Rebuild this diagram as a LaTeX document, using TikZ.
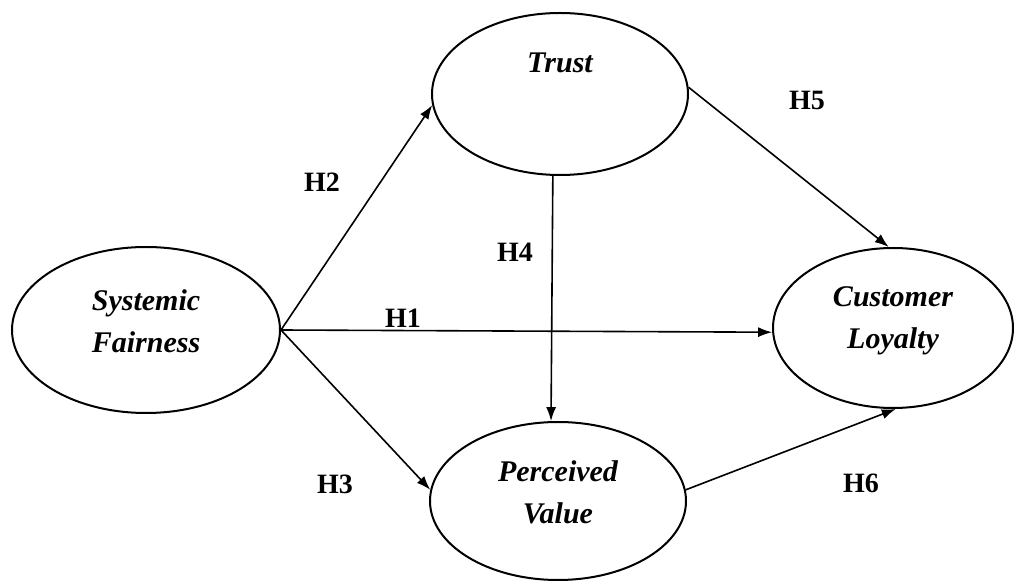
\documentclass[tikz,border=0pt]{standalone}
\usepackage{fontspec}
\setmainfont{Liberation Serif}
\usetikzlibrary{arrows.meta,shapes.geometric}

\begin{document}
\begin{tikzpicture}[x=0.5pt,y=-0.5pt,>={Latex[length=7pt,width=5pt]},
  construct/.style={ellipse,draw,line width=1pt,inner sep=0pt},
  ctext/.style={font=\fontsize{15}{21}\selectfont\bfseries\itshape,align=center},
  hyp/.style={font=\fontsize{14}{16}\selectfont\bfseries},
  effect/.style={->,line width=0.8pt}]
\useasboundingbox (0,0) rectangle (1018,582);
% constructs
\node[construct,minimum width=134pt,minimum height=83pt] (sf) at (146,330) {};
\node[construct,minimum width=128pt,minimum height=81pt] (trust) at (560,94) {};
\node[construct,minimum width=128pt,minimum height=79pt] (pv) at (558,501) {};
\node[construct,minimum width=120pt,minimum height=80pt] (cl) at (893,328) {};
\node[ctext] (sftxt) at ([yshift=4.5pt]sf.center) {Systemic\\Fairness};
\node[ctext] (trusttxt) at ([yshift=15.5pt]trust.center) {Trust};
\node[ctext] (pvtxt) at ([yshift=4.5pt]pv.center) {Perceived\\Value};
\node[ctext] (cltxt) at ([yshift=3.5pt]cl.center) {Customer\\Loyalty};
% hypotheses
\draw[effect] (sf.east) -- (cl.182);
\draw[effect] (sf.east) -- (trust.185);
\draw[effect] (sf.east) -- (pv.175);
\draw[effect] (trust.265) -- (pv.95);
\draw[effect] (trust.3) -- (cl.93);
\draw[effect] (pv.5) -- (cl.272);
\node[hyp] (h1) at (403,318) {H1};
\node[hyp] (h2) at (322,182) {H2};
\node[hyp] (h3) at (335,484) {H3};
\node[hyp] (h4) at (515,252) {H4};
\node[hyp] (h5) at (807,100) {H5};
\node[hyp] (h6) at (861,483) {H6};
\end{tikzpicture}
\end{document}
